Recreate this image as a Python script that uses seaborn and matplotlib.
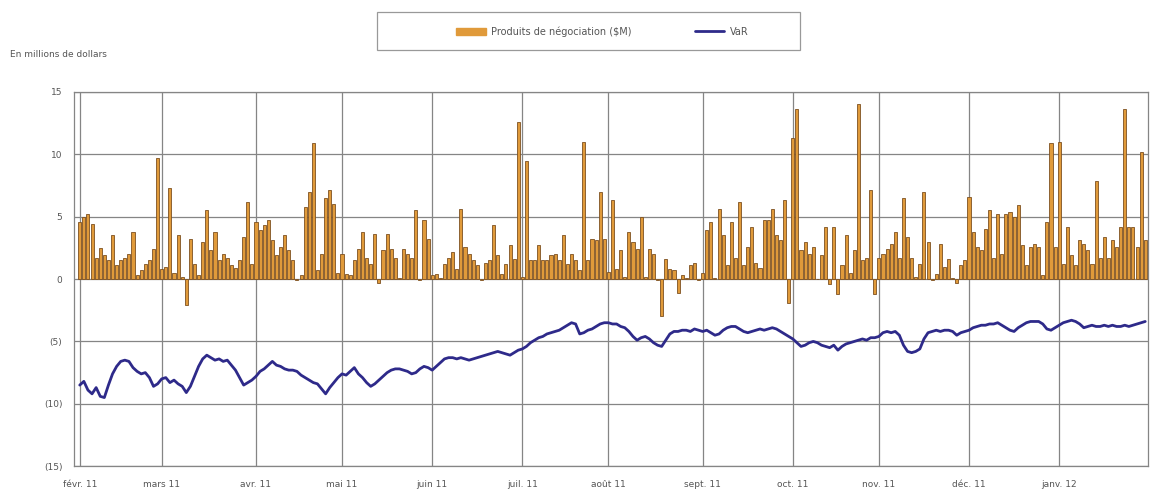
import numpy as np
import pandas as pd
import seaborn as sns
import matplotlib.pyplot as plt
from matplotlib.patches import Patch, Rectangle
from matplotlib.lines import Line2D

# daily trading revenue ($M), one row per month, févr. 2011 -> janv. 2012
pnl = [
    4.6, 5.0, 5.2, 4.4, 1.7, 2.5, 1.9, 1.5, 3.5, 1.1, 1.5, 1.7, 2.0, 3.8, 0.3, 0.7, 1.2, 1.5, 2.4, 9.7,
    0.8, 1.0, 7.3, 0.5, 3.5, 0.2, -2.1, 3.2, 1.2, 0.3, 3.0, 5.5, 2.3, 3.8, 1.5, 2.0, 1.7, 1.1, 0.9, 1.5, 3.4, 6.2, 1.2,
    4.6, 3.9, 4.3, 4.7, 3.1, 1.9, 2.6, 3.5, 2.3, 1.5, -0.1, 0.3, 5.8, 7.0, 10.9, 0.7, 2.0, 6.5, 7.1, 6.0, 0.5,
    2.0, 0.4, 0.3, 1.5, 2.4, 3.8, 1.7, 1.2, 3.6, -0.3, 2.3, 3.6, 2.4, 1.7, 0.1, 2.4, 2.0, 1.7, 5.5, -0.1, 4.7, 3.2,
    0.3, 0.4, 0.1, 1.2, 1.7, 2.2, 0.8, 5.6, 2.6, 2.0, 1.5, 1.1, -0.1, 1.3, 1.5, 4.3, 1.9, 0.4, 1.2, 2.7, 1.6, 12.6,
    0.2, 9.5, 1.5, 1.5, 2.7, 1.5, 1.5, 1.9, 2.0, 1.5, 3.5, 1.2, 2.0, 1.5, 0.7, 11.0, 1.5, 3.2, 3.1, 7.0, 3.2,
    0.6, 6.3, 0.8, 2.3, 0.2, 3.8, 3.0, 2.4, 5.0, 0.2, 2.4, 2.0, -0.1, -3.0, 1.6, 0.8, 0.7, -1.1, 0.3, 0.1, 1.1, 1.3, -0.1,
    0.5, 3.9, 4.6, 0.1, 5.6, 3.5, 1.1, 4.6, 1.7, 6.2, 1.1, 2.6, 4.2, 1.3, 0.9, 4.7, 4.7, 5.6, 3.5, 3.1, 6.3, -1.9,
    11.3, 13.6, 2.3, 3.0, 2.0, 2.6, 0.0, 1.9, 4.2, -0.4, 4.2, -1.2, 1.1, 3.5, 0.5, 2.3, 14.0, 1.5, 1.7, 7.1, -1.2,
    1.7, 2.0, 2.4, 2.8, 3.8, 1.7, 6.5, 3.4, 1.7, 0.2, 1.2, 7.0, 3.0, -0.1, 0.4, 2.8, 1.0, 1.6, 0.1, -0.3, 1.1, 1.5,
    6.6, 3.8, 2.6, 2.3, 4.0, 5.5, 1.7, 5.2, 2.0, 5.2, 5.4, 5.0, 5.9, 2.7, 1.1, 2.6, 2.8, 2.6, 0.3, 4.6, 10.9, 2.6,
    11.0, 1.2, 4.2, 1.9, 1.1, 3.1, 2.8, 2.3, 1.2, 7.9, 1.7, 3.4, 1.7, 3.1, 2.6, 4.2, 13.6, 4.2, 4.2, 2.6, 10.2, 3.1,
]

# VaR ($M), same days
var = [
    -8.5, -8.2, -8.9, -9.2, -8.7, -9.4, -9.5, -8.5, -7.6, -7.0, -6.6, -6.5, -6.6, -7.1, -7.4, -7.6, -7.5, -7.9, -8.6, -8.4,
    -8.0, -7.9, -8.3, -8.1, -8.4, -8.6, -9.1, -8.6, -7.8, -7.0, -6.4, -6.1, -6.3, -6.5, -6.4, -6.6, -6.5, -6.9, -7.3, -7.9, -8.5, -8.3, -8.1,
    -7.8, -7.4, -7.2, -6.9, -6.6, -6.9, -7.0, -7.2, -7.3, -7.3, -7.4, -7.7, -7.9, -8.1, -8.3, -8.4, -8.8, -9.2, -8.7, -8.3, -7.9,
    -7.6, -7.7, -7.4, -7.1, -7.6, -7.9, -8.3, -8.6, -8.4, -8.1, -7.8, -7.5, -7.3, -7.2, -7.2, -7.3, -7.4, -7.6, -7.5, -7.2, -7.0, -7.1,
    -7.3, -7.0, -6.7, -6.4, -6.3, -6.3, -6.4, -6.3, -6.4, -6.5, -6.4, -6.3, -6.2, -6.1, -6.0, -5.9, -5.8, -5.9, -6.0, -6.1, -5.9, -5.7,
    -5.6, -5.4, -5.1, -4.9, -4.7, -4.6, -4.4, -4.3, -4.2, -4.1, -3.9, -3.7, -3.5, -3.6, -4.4, -4.3, -4.1, -4.0, -3.8, -3.6, -3.5,
    -3.5, -3.6, -3.6, -3.8, -3.9, -4.2, -4.6, -4.9, -4.7, -4.6, -4.8, -5.1, -5.3, -5.4, -4.9, -4.4, -4.2, -4.2, -4.1, -4.1, -4.2, -4.0, -4.1,
    -4.2, -4.1, -4.3, -4.5, -4.4, -4.1, -3.9, -3.8, -3.8, -4.0, -4.2, -4.3, -4.2, -4.1, -4.0, -4.1, -4.0, -3.9, -4.0, -4.2, -4.4, -4.6,
    -4.8, -5.1, -5.4, -5.3, -5.1, -5.0, -5.1, -5.3, -5.4, -5.5, -5.3, -5.7, -5.4, -5.2, -5.1, -5.0, -4.9, -4.8, -4.9, -4.7, -4.7,
    -4.6, -4.3, -4.2, -4.3, -4.2, -4.5, -5.3, -5.8, -5.9, -5.8, -5.6, -4.8, -4.3, -4.2, -4.1, -4.2, -4.1, -4.1, -4.2, -4.5, -4.3, -4.2,
    -4.1, -3.9, -3.8, -3.7, -3.7, -3.6, -3.6, -3.5, -3.7, -3.9, -4.1, -4.2, -3.9, -3.7, -3.5, -3.4, -3.4, -3.4, -3.6, -4.0, -4.1, -3.9,
    -3.7, -3.5, -3.4, -3.3, -3.4, -3.6, -3.9, -3.8, -3.7, -3.8, -3.8, -3.7, -3.8, -3.7, -3.8, -3.8, -3.7, -3.8, -3.7, -3.6, -3.5, -3.4,
]

month_labels = ["févr. 11", "mars 11", "avr. 11", "mai 11", "juin 11", "juil. 11",
                "août 11", "sept. 11", "oct. 11", "nov. 11", "déc. 11", "janv. 12"]
y_ticks = [-15, -10, -5, 0, 5, 10, 15]
y_labels = ["(15)", "(10)", "(5)", "0", "5", "10", "15"]

dates = pd.bdate_range("2011-02-01", "2012-01-31")
df = pd.DataFrame({"date": dates, "pnl": pnl, "var": var})
df["day"] = np.arange(len(df))
month_starts = df.groupby(df["date"].dt.to_period("M"))["day"].min().tolist()

bar_color = "#E09A3A"
edge_color = "#7D5020"
line_color = "#2E2A8A"
grid_color = "#858585"
text_color = "#555555"

sns.set_style("white")
plt.rcParams["font.family"] = ["DejaVu Sans"]

fig, ax = plt.subplots(figsize=(11.5, 4.97), dpi=100)
fig.subplots_adjust(left=0.064, right=0.998, top=0.815, bottom=0.062)

sns.barplot(data=df, x="day", y="pnl", native_scale=True, width=0.75,
            color=bar_color, saturation=1, edgecolor=edge_color,
            linewidth=0.6, errorbar=None, ax=ax, zorder=2)
sns.lineplot(data=df, x="day", y="var", color=line_color, linewidth=2.0,
             ax=ax, zorder=3)

ax.set_xlim(-1.5, 260.6)
ax.set_ylim(-15, 15)
ax.set_xticks(month_starts)
ax.set_xticklabels(month_labels, fontsize=6.5, color=text_color)
ax.set_yticks(y_ticks)
ax.set_yticklabels(y_labels, fontsize=6.5, color=text_color)
ax.tick_params(axis="both", length=4, color=grid_color, pad=4)
ax.tick_params(axis="x", pad=6)
ax.set_xlabel("")
ax.set_ylabel("")
ax.grid(True, color=grid_color, linewidth=0.9, zorder=0)
ax.set_axisbelow(True)
for s in ax.spines.values():
    s.set_color(grid_color)
    s.set_linewidth(0.9)

fig.text(0.009, 0.885, "En millions de dollars", fontsize=6.5, color=text_color)

# legend box drawn separately so it can be wider than its contents
fig.patches.append(Rectangle((0.328, 0.899), 0.368, 0.077, transform=fig.transFigure,
                             fill=False, edgecolor="#999999", linewidth=0.9))
handles = [Patch(facecolor=bar_color, edgecolor=bar_color),
           Line2D([0], [0], color=line_color, linewidth=2)]
leg = fig.legend(handles, ["Produits de négociation ($M)", "VaR"],
                 loc="center", bbox_to_anchor=(0.524, 0.937), ncol=2,
                 fontsize=7, frameon=False, handlelength=3, handleheight=0.7,
                 columnspacing=6.5, handletextpad=0.6)
for t in leg.get_texts():
    t.set_color(text_color)

fig.savefig("out.png", dpi=100)
